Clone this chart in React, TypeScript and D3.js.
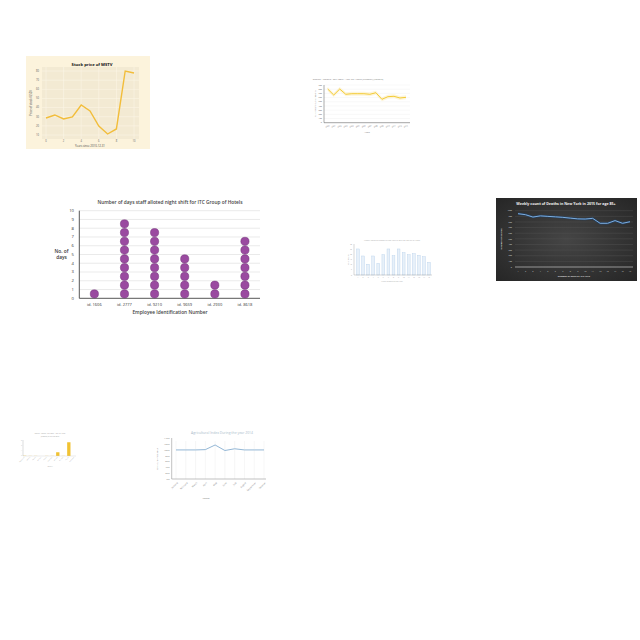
import { useRef, useEffect } from 'react';
import * as d3 from 'd3';

// panel 1: stock price
const stockYears = [0, 1, 2, 3, 4, 5, 6, 7, 8, 9, 10];
const stockPrice = [28.6, 31.9, 27.5, 29.7, 42.8, 36.3, 19.8, 11.1, 16.6, 80, 77.8];

// panel 2: malaria deaths
const malariaYears = ['2000', '2001', '2002', '2003', '2004', '2005', '2006', '2007', '2008', '2009', '2010', '2011', '2012', '2013'];
const malariaValues = [80.4, 66.1, 80.4, 67.8, 69.2, 69.2, 69.2, 67.8, 71.6, 55.9, 62.1, 63, 59, 60.6];

// panel 3: night shifts
const employees = ['id. 1606', 'id. 2777', 'id. 9210', 'id. 9659', 'id. 2930', 'id. 8618'];
const nightDays = [1, 9, 8, 5, 2, 7];

// panel 4: small bars
const smallBarLabels = ['1', '2', '3', '4', '5', '6', '7', '8', '9', '10', '11', '12', '13', '14', '15'];
const smallBarValues = [25.2, 18.4, 10.4, 18.4, 11.3, 19.6, 25.2, 18.7, 25.2, 21.6, 19.6, 20.6, 19.1, 17.7, 12.3];

// panel 5: weekly deaths NY
const weeks = ['1', '2', '3', '4', '5', '6', '7', '8', '9', '10', '11', '12', '13', '14', '15', '16'];
const weeklyDeaths = [947, 929, 887, 908, 899, 891, 882, 868, 855, 852, 864, 776, 776, 824, 776, 804];

// panel 6: tiny yellow bars
const tinyLabels = ['Afghanistan', 'Albania', 'Algeria', 'Andorra', 'Angola', 'Argentina', 'Armenia', 'Australia', 'Austria', 'Azerbaijan'];
const tinyValues = [0.2, 0.1, 0.1, 0, 0.1, 0.1, 3, 0.1, 11, 0];

// panel 7: agricultural index
const months = ['January', 'February', 'March', 'April', 'May', 'June', 'July', 'August', 'September', 'October'];
const agriIndex = [100, 100, 100, 101, 117, 98, 104, 100, 100, 100];

const FONT = '"Open Sans", "Liberation Sans", sans-serif';

export default function App() {
  const svgRef = useRef<SVGSVGElement>(null);

  useEffect(() => {
    const svg = d3.select(svgRef.current);
    svg.selectAll('*').remove();

    // ---------- panel 1 ----------
    {
      const g = svg.append('g');
      g.append('rect').attr('x', 26).attr('y', 56).attr('width', 124).attr('height', 93).attr('fill', '#fcf3dc');
      const x = d3.scaleLinear().domain([0, 10]).range([46, 134]);
      const y = d3.scaleLinear().domain([10, 80]).range([135, 71]);
      g.append('rect').attr('x', 42).attr('y', 67).attr('width', 97).attr('height', 72).attr('fill', '#f3ead3');
      y.ticks(8).forEach((t) => {
        g.append('line').attr('x1', 42).attr('x2', 139).attr('y1', y(t)).attr('y2', y(t)).attr('stroke', '#fbf5e6').attr('stroke-width', 0.6);
        g.append('text').attr('x', 39).attr('y', y(t)).attr('dy', '0.35em').attr('text-anchor', 'end')
          .attr('font-size', 2.6).attr('fill', '#666').text(t);
      });
      [0, 2, 4, 6, 8, 10].forEach((t) => {
        g.append('line').attr('y1', 67).attr('y2', 139).attr('x1', x(t)).attr('x2', x(t)).attr('stroke', '#fbf5e6').attr('stroke-width', 0.6);
        g.append('text').attr('x', x(t)).attr('y', 142).attr('text-anchor', 'middle')
          .attr('font-size', 2.6).attr('fill', '#666').text(t);
      });
      const line = d3.line<number>().x((_, i) => x(stockYears[i])).y((d) => y(d));
      g.append('path').datum(stockPrice).attr('d', line).attr('fill', 'none').attr('stroke', '#f2bd3a').attr('stroke-width', 1.4);
      g.append('text').attr('x', 92).attr('y', 66).attr('text-anchor', 'middle').attr('font-size', 4.2)
        .attr('font-weight', 700).attr('fill', '#111').text('Stock price of MSTV');
      g.append('text').attr('x', 90).attr('y', 146.5).attr('text-anchor', 'middle').attr('font-size', 2.8).attr('fill', '#444')
        .text('Years since 2010-12-31');
      g.append('text').attr('transform', 'translate(32,103) rotate(-90)').attr('text-anchor', 'middle').attr('font-size', 2.8)
        .attr('fill', '#444').text('Price of stock (USD)');
    }

    // ---------- panel 2 ----------
    {
      const g = svg.append('g');
      const x = d3.scalePoint().domain(malariaYears).range([327.7, 406]);
      const y = d3.scaleLinear().domain([0, 90]).range([122.7, 85]);
      y.ticks(9).forEach((t) => {
        g.append('line').attr('x1', 324).attr('x2', 410).attr('y1', y(t)).attr('y2', y(t)).attr('stroke', '#eee').attr('stroke-width', 0.4);
        g.append('text').attr('x', 322).attr('y', y(t)).attr('dy', '0.35em').attr('text-anchor', 'end')
          .attr('font-size', 2).attr('fill', '#666').text(t * 10);
      });
      g.append('line').attr('x1', 324).attr('x2', 324).attr('y1', 85).attr('y2', 122.7).attr('stroke', '#555').attr('stroke-width', 0.5);
      g.append('line').attr('x1', 324).attr('x2', 410).attr('y1', 122.7).attr('y2', 122.7).attr('stroke', '#555').attr('stroke-width', 0.5);
      const area = d3.area<number>().x((_, i) => x(malariaYears[i])!).y0((d) => y(d) + 2).y1((d) => y(d) - 2);
      g.append('path').datum(malariaValues).attr('d', area).attr('fill', '#fbefc2').attr('opacity', 0.6);
      const line = d3.line<number>().x((_, i) => x(malariaYears[i])!).y((d) => y(d));
      g.append('path').datum(malariaValues).attr('d', line).attr('fill', 'none').attr('stroke', '#f3c623').attr('stroke-width', 0.9);
      malariaYears.forEach((yr) => {
        g.append('text').attr('transform', `translate(${x(yr)},127) rotate(-20)`).attr('text-anchor', 'middle')
          .attr('font-size', 1.8).attr('fill', '#666').text(yr);
      });
      g.append('text').attr('x', 348).attr('y', 80).attr('text-anchor', 'middle').attr('font-size', 2.4).attr('fill', '#777')
        .text('Deaths - Malaria - Sex: Both - Age: 70+ years (Number) (Malaria)');
      g.append('text').attr('x', 367).attr('y', 132.5).attr('text-anchor', 'middle').attr('font-size', 2.2).attr('fill', '#777').text('Years');
      g.append('text').attr('transform', 'translate(316,104) rotate(-90)').attr('text-anchor', 'middle').attr('font-size', 2)
        .attr('fill', '#777').text('No. of deaths due to malaria');
    }

    // ---------- panel 3 ----------
    {
      const g = svg.append('g').attr('font-family', FONT);
      const x = d3.scaleBand().domain(employees).range([79.3, 260]);
      const y = d3.scaleLinear().domain([0, 10]).range([298.3, 210.7]);
      d3.range(0, 11).forEach((t) => {
        if (t > 0) {
          g.append('line').attr('x1', 79.3).attr('x2', 260).attr('y1', y(t)).attr('y2', y(t)).attr('stroke', '#dcdcdc').attr('stroke-width', 0.6);
        }
        g.append('text').attr('x', 74).attr('y', y(t)).attr('dy', '0.35em').attr('text-anchor', 'end')
          .attr('font-size', 4.2).attr('fill', '#333').text(t);
      });
      g.append('line').attr('x1', 79.3).attr('x2', 79.3).attr('y1', 210.7).attr('y2', 298.3).attr('stroke', '#444').attr('stroke-width', 0.9);
      g.append('line').attr('x1', 79.3).attr('x2', 260).attr('y1', 298.3).attr('y2', 298.3).attr('stroke', '#444').attr('stroke-width', 0.9);
      employees.forEach((emp, i) => {
        const cx = x(emp)! + x.bandwidth() / 2;
        d3.range(nightDays[i]).forEach((k) => {
          g.append('circle').attr('cx', cx).attr('cy', y(k + 0.5)).attr('r', 4.1)
            .attr('fill', '#9a4aa0').attr('stroke', '#6e2e74').attr('stroke-width', 0.5);
        });
        g.append('text').attr('x', cx).attr('y', 305.5).attr('text-anchor', 'middle').attr('font-size', 4).attr('fill', '#333').text(emp);
      });
      g.append('text').attr('x', 170).attr('y', 204).attr('text-anchor', 'middle').attr('font-size', 4.8)
        .attr('font-weight', 600).attr('fill', '#444').text('Number of days staff alloted night shift for ITC Group of Hotels');
      g.append('text').attr('x', 170).attr('y', 313.5).attr('text-anchor', 'middle').attr('font-size', 4.8)
        .attr('font-weight', 600).attr('fill', '#444').text('Employee Identification Number');
      g.append('text').attr('x', 61.5).attr('y', 253).attr('text-anchor', 'middle').attr('font-size', 4.8)
        .attr('font-weight', 600).attr('fill', '#333').text('No. of');
      g.append('text').attr('x', 61.5).attr('y', 259).attr('text-anchor', 'middle').attr('font-size', 4.8)
        .attr('font-weight', 600).attr('fill', '#333').text('days');
    }

    // ---------- panel 4 ----------
    {
      const g = svg.append('g');
      const x = d3.scaleBand().domain(smallBarLabels).range([355, 432]).paddingInner(0.45).paddingOuter(0.3);
      const y = d3.scaleLinear().domain([0, 30]).range([275, 244]);
      g.selectAll('rect.bar').data(smallBarValues).join('rect').attr('class', 'bar')
        .attr('x', (_, i) => x(smallBarLabels[i])!).attr('y', (d) => y(d)).attr('width', x.bandwidth())
        .attr('height', (d) => y(0) - y(d)).attr('fill', '#e7f0f9').attr('stroke', '#b6d0ea').attr('stroke-width', 0.4);
      g.append('line').attr('x1', 354).attr('x2', 354).attr('y1', 244).attr('y2', 275).attr('stroke', '#999').attr('stroke-width', 0.4);
      g.append('line').attr('x1', 354).attr('x2', 432).attr('y1', 275).attr('y2', 275).attr('stroke', '#999').attr('stroke-width', 0.4);
      y.ticks(6).forEach((t) => {
        g.append('text').attr('x', 352).attr('y', y(t)).attr('dy', '0.35em').attr('text-anchor', 'end')
          .attr('font-size', 1.6).attr('fill', '#999').text(t);
      });
      smallBarLabels.forEach((l) => {
        g.append('text').attr('x', x(l)! + x.bandwidth() / 2).attr('y', 278).attr('text-anchor', 'middle')
          .attr('font-size', 1.6).attr('fill', '#999').text(l);
      });
      g.append('text').attr('x', 392).attr('y', 241).attr('text-anchor', 'middle').attr('font-size', 1.9).attr('fill', '#aaa')
        .text('Weekly count of Deaths in New York in 2015 for age 25-34 years');
      g.append('text').attr('x', 392).attr('y', 282).attr('text-anchor', 'middle').attr('font-size', 1.8).attr('fill', '#aaa')
        .text('Week number of the year');
      g.append('text').attr('transform', 'translate(349,260) rotate(-90)').attr('text-anchor', 'middle').attr('font-size', 1.8)
        .attr('fill', '#aaa').text('No. of deaths');
    }

    // ---------- panel 5 ----------
    {
      const g = svg.append('g').attr('font-family', FONT);
      const grad = svg.append('defs').append('radialGradient').attr('id', 'darkbg').attr('cx', '50%').attr('cy', '50%').attr('r', '70%');
      grad.append('stop').attr('offset', '0%').attr('stop-color', '#454545');
      grad.append('stop').attr('offset', '100%').attr('stop-color', '#262626');
      g.append('rect').attr('x', 496).attr('y', 198).attr('width', 141).attr('height', 83).attr('fill', 'url(#darkbg)');
      const x = d3.scalePoint().domain(weeks).range([518, 630]);
      const y = d3.scaleLinear().domain([0, 1000]).range([267, 210.7]);
      y.ticks(10).forEach((t) => {
        g.append('line').attr('x1', 515).attr('x2', 633).attr('y1', y(t)).attr('y2', y(t)).attr('stroke', '#555').attr('stroke-width', 0.4);
        g.append('text').attr('x', 512).attr('y', y(t)).attr('dy', '0.35em').attr('text-anchor', 'end')
          .attr('font-size', 2).attr('fill', '#ddd').text(t);
      });
      g.append('line').attr('x1', 515).attr('x2', 633).attr('y1', 267).attr('y2', 267).attr('stroke', '#ccc').attr('stroke-width', 0.6);
      weeks.forEach((w) => {
        g.append('text').attr('x', x(w)!).attr('y', 271.5).attr('text-anchor', 'middle').attr('font-size', 2).attr('fill', '#ddd').text(w);
      });
      const line = d3.line<number>().x((_, i) => x(weeks[i])!).y((d) => y(d));
      g.append('path').datum(weeklyDeaths).attr('d', line).attr('fill', 'none').attr('stroke', '#243f5e').attr('stroke-width', 2.2);
      g.append('path').datum(weeklyDeaths).attr('d', line).attr('fill', 'none').attr('stroke', '#7eaede').attr('stroke-width', 1);
      g.append('text').attr('x', 566).attr('y', 204.5).attr('text-anchor', 'middle').attr('font-size', 3.6)
        .attr('font-weight', 700).attr('fill', '#f2f2f2').text('Weekly count of Deaths in New York in 2015 for age 85+');
      g.append('text').attr('x', 574).attr('y', 276.5).attr('text-anchor', 'middle').attr('font-size', 2.1)
        .attr('font-weight', 700).attr('fill', '#ddd').text('NUMBER OF WEEK OF THE YEAR');
      g.append('text').attr('transform', 'translate(502,239) rotate(-90)').attr('text-anchor', 'middle').attr('font-size', 2.1)
        .attr('font-weight', 700).attr('fill', '#ddd').text('NUMBER OF DEATHS');
    }

    // ---------- panel 6 ----------
    {
      const g = svg.append('g');
      const x = d3.scaleBand().domain(tinyLabels).range([23, 76]).paddingInner(0.4);
      const y = d3.scaleLinear().domain([0, 12]).range([456, 441]);
      g.selectAll('rect.tb').data(tinyValues).join('rect').attr('class', 'tb')
        .attr('x', (_, i) => x(tinyLabels[i])!).attr('y', (d) => y(d)).attr('width', x.bandwidth())
        .attr('height', (d) => y(0) - y(d)).attr('fill', '#f1c232');
      g.append('line').attr('x1', 23).attr('x2', 23).attr('y1', 440).attr('y2', 456).attr('stroke', '#bbb').attr('stroke-width', 0.5);
      g.append('line').attr('x1', 23).attr('x2', 76).attr('y1', 456).attr('y2', 456).attr('stroke', '#ccc').attr('stroke-width', 0.4);
      [0, 4, 8, 12].forEach((t) => {
        g.append('text').attr('x', 22).attr('y', y(t)).attr('dy', '0.35em').attr('text-anchor', 'end')
          .attr('font-size', 1.2).attr('fill', '#aaa').text(t);
      });
      tinyLabels.forEach((l) => {
        g.append('text').attr('transform', `translate(${x(l)! + x.bandwidth() / 2},457.5) rotate(-45)`).attr('text-anchor', 'end')
          .attr('font-size', 1.3).attr('fill', '#aaa').text(l);
      });
      g.append('text').attr('x', 50).attr('y', 434).attr('text-anchor', 'middle').attr('font-size', 1.5).attr('fill', '#999')
        .text('Deaths - Malaria - Sex: Both - Age: 70+ years');
      g.append('text').attr('x', 50).attr('y', 436.5).attr('text-anchor', 'middle').attr('font-size', 1.5).attr('fill', '#999')
        .text('(Number) in the year 2010');
      g.append('text').attr('x', 50).attr('y', 467).attr('text-anchor', 'middle').attr('font-size', 1.4).attr('fill', '#aaa').text('Country');
    }

    // ---------- panel 7 ----------
    {
      const g = svg.append('g');
      const x = d3.scalePoint().domain(months).range([176, 264]);
      const y = d3.scaleLinear().domain([0, 140]).range([479, 438.3]);
      months.forEach((m) => {
        g.append('line').attr('x1', x(m)!).attr('x2', x(m)!).attr('y1', 441).attr('y2', 479).attr('stroke', '#ececec').attr('stroke-width', 0.5);
        g.append('text').attr('transform', `translate(${x(m)! + 2},483) rotate(-45)`).attr('text-anchor', 'end')
          .attr('font-size', 2.3).attr('fill', '#777').text(m);
      });
      y.ticks(7).forEach((t) => {
        g.append('text').attr('x', 169.5).attr('y', y(t)).attr('dy', '0.35em').attr('text-anchor', 'end')
          .attr('font-size', 2.2).attr('fill', '#777').text(t.toFixed(1));
      });
      g.append('line').attr('x1', 171.7).attr('x2', 171.7).attr('y1', 438).attr('y2', 479).attr('stroke', '#999').attr('stroke-width', 0.6);
      g.append('line').attr('x1', 171.7).attr('x2', 266).attr('y1', 479).attr('y2', 479).attr('stroke', '#999').attr('stroke-width', 0.6);
      const line = d3.line<number>().x((_, i) => x(months[i])!).y((d) => y(d));
      g.append('path').datum(agriIndex).attr('d', line).attr('fill', 'none').attr('stroke', '#86aed0').attr('stroke-width', 0.9);
      g.append('text').attr('x', 222).attr('y', 434).attr('text-anchor', 'middle').attr('font-size', 3.4)
        .attr('fill', '#a9bccb').text('Agricultural Index During the year 2014');
      g.append('text').attr('transform', 'translate(157.5,459) rotate(-90)').attr('text-anchor', 'middle').attr('font-size', 2)
        .attr('fill', '#777').text('Agricultural Index Value');
      g.append('text').attr('x', 206).attr('y', 499).attr('text-anchor', 'middle').attr('font-size', 2)
        .attr('fill', '#777').text('Months');
    }
  }, []);

  return (
    <svg
      ref={svgRef}
      width={640}
      height={640}
      style={{ position: 'absolute', left: 0, top: 0, background: '#fff', fontFamily: FONT }}
    />
  );
}
